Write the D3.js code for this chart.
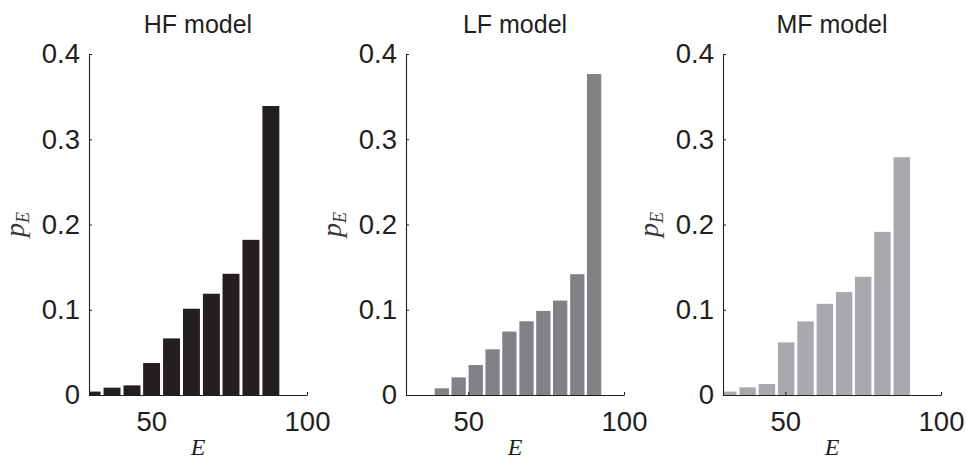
<!DOCTYPE html>
<html>
<head>
<meta charset="utf-8">
<script src="https://cdn.jsdelivr.net/npm/d3@7"></script>
<style>
  html, body { margin: 0; padding: 0; background: #fff; }
  svg { display: block; }
</style>
</head>
<body>
<div id="chart"></div>
<script>
// ---- data ----
const panelTitles = ["HF model", "LF model", "MF model"];

const hfCenters = [31.0, 37.4, 43.8, 50.1, 56.5, 62.9, 69.3, 75.6, 82.0, 88.4];
const hfValues  = [0.004, 0.0086, 0.0113, 0.0375, 0.0664, 0.1012, 0.1188, 0.1422, 0.182, 0.339];

const lfCenters = [41.5, 46.9, 52.4, 57.8, 63.2, 68.7, 74.1, 79.5, 85.0, 90.4];
const lfValues  = [0.0078, 0.0207, 0.0352, 0.0536, 0.0744, 0.0865, 0.0986, 0.1108, 0.1417, 0.3765];

const mfCenters = [31.7, 37.9, 44.1, 50.3, 56.5, 62.7, 68.9, 75.0, 81.2, 87.4];
const mfValues  = [0.004, 0.009, 0.0129, 0.0617, 0.0863, 0.107, 0.1207, 0.1387, 0.1914, 0.2789];

const barColors = ["#231f20", "#808285", "#a7a9ac"];

const xDomain = [30, 100];
const yDomain = [0, 0.4];
const xTickValues = [50, 100];
const yTickValues = [0, 0.1, 0.2, 0.3, 0.4];

// ---- layout ----
const W = 966, H = 461;
const panelLeft = [89, 406, 723];
const panelWidth = 218;
const plotTop = 54, plotBottom = 395;
const ink = "#231f20";
const sans = '"Liberation Sans", Arial, Helvetica, sans-serif';
const serif = '"Liberation Serif", "DejaVu Serif", "Times New Roman", serif';

const panels = [
  {title: panelTitles[0], centers: hfCenters, values: hfValues, color: barColors[0]},
  {title: panelTitles[1], centers: lfCenters, values: lfValues, color: barColors[1]},
  {title: panelTitles[2], centers: mfCenters, values: mfValues, color: barColors[2]}
];

const svg = d3.select("#chart").append("svg")
  .attr("width", W).attr("height", H)
  .attr("viewBox", `0 0 ${W} ${H}`);

const x = d3.scaleLinear().domain(xDomain).range([0, panelWidth]);
const y = d3.scaleLinear().domain(yDomain).range([plotBottom, plotTop]);

panels.forEach((p, i) => {
  const g = svg.append("g").attr("transform", `translate(${panelLeft[i]},0)`);

  const clipId = "clip" + i;
  g.append("clipPath").attr("id", clipId)
    .append("rect").attr("x", 1).attr("y", 0)
    .attr("width", panelWidth - 1).attr("height", plotBottom + 0.5);

  const data = p.centers.map((c, k) => ({c, v: p.values[k]}));
  const pitch = x(p.centers[1]) - x(p.centers[0]);
  const bw = pitch * 0.85;

  g.append("g").attr("clip-path", `url(#${clipId})`)
    .selectAll("rect").data(data).join("rect")
    .attr("x", d => x(d.c) - bw / 2)
    .attr("width", bw)
    .attr("y", d => y(d.v))
    .attr("height", d => y(0) - y(d.v) + 0.5)
    .attr("fill", p.color);

  // y axis
  const yAxis = d3.axisLeft(y).tickValues(yTickValues)
    .tickSizeInner(-3).tickSizeOuter(0).tickPadding(9)
    .tickFormat(d => d === 0 ? "0" : d3.format(".1f")(d));
  const ya = g.append("g").call(yAxis);
  ya.select(".domain").attr("stroke", ink).attr("stroke-width", 1.1);
  ya.selectAll(".tick line").attr("stroke", ink);
  ya.selectAll(".tick text").attr("fill", ink)
    .style("font-size", "27.5px").style("font-family", sans);

  // x axis
  const xAxis = d3.axisBottom(x).tickValues(xTickValues)
    .tickSizeInner(-3).tickSizeOuter(0).tickPadding(16)
    .tickFormat(d3.format("d"));
  const xa = g.append("g").attr("transform", `translate(0,${plotBottom})`).call(xAxis);
  xa.select(".domain").attr("stroke", ink).attr("stroke-width", 1.1);
  xa.selectAll(".tick line").attr("stroke", ink);
  xa.selectAll(".tick text").attr("fill", ink)
    .style("font-size", "27.5px").style("font-family", sans);

  // title
  g.append("text")
    .attr("x", panelWidth / 2).attr("y", 33)
    .attr("text-anchor", "middle")
    .attr("fill", ink)
    .style("font-family", sans).style("font-size", "25px")
    .text(p.title);

  // x label
  g.append("text")
    .attr("x", panelWidth / 2).attr("y", 455)
    .attr("text-anchor", "middle")
    .attr("fill", ink)
    .style("font-family", serif).style("font-style", "italic").style("font-size", "24px")
    .text("E");

  // y label p_E
  const yl = g.append("text")
    .attr("transform", `translate(-65,${(plotTop + plotBottom) / 2}) rotate(-90)`)
    .attr("text-anchor", "middle")
    .attr("fill", "#3a3a3c")
    .style("font-family", serif).style("font-style", "italic").style("font-size", "28px");
  yl.append("tspan").text("p");
  yl.append("tspan").attr("dy", 5).style("font-size", "18px").text("E");
});
</script>
</body>
</html>
